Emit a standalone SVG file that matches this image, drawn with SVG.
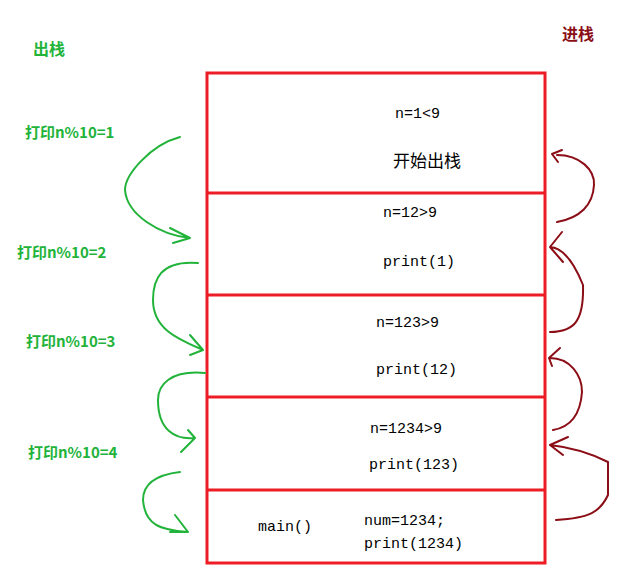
<svg xmlns="http://www.w3.org/2000/svg" width="637" height="588" viewBox="0 0 637 588">
<style>
.g{fill:none;stroke:#22b33a;stroke-width:2;stroke-linecap:round;stroke-linejoin:round}
.r{fill:none;stroke:#8b0d16;stroke-width:2;stroke-linecap:round;stroke-linejoin:round}
.lab{font-family:"Noto Sans CJK SC","Liberation Mono",monospace;font-size:15px;fill:#22b33a;font-weight:bold}
.t{font-family:"Liberation Mono","Noto Sans CJK SC",monospace;font-size:15px;fill:#000}
</style>
<rect width="637" height="588" fill="#fff"/>
<g id="stack" fill="none" stroke="#ee1c24" stroke-width="3">
<rect x="207" y="73" width="338" height="490"/>
<line x1="207" y1="193" x2="545" y2="193"/>
<line x1="207" y1="295" x2="545" y2="295"/>
<line x1="207" y1="397" x2="545" y2="397"/>
<line x1="207" y1="490" x2="545" y2="490"/>
</g>
<g id="frame1"><text class="t" x="395" y="118">n=1&lt;9</text><text class="t" x="393" y="167" style="font-family:'Noto Sans CJK SC',sans-serif;font-size:17px">开始出栈</text></g>
<g id="frame2"><text class="t" x="383" y="217">n=12&gt;9</text><text class="t" x="383" y="266">print(1)</text></g>
<g id="frame3"><text class="t" x="376" y="327">n=123&gt;9</text><text class="t" x="376" y="374">print(12)</text></g>
<g id="frame4"><text class="t" x="370" y="433">n=1234&gt;9</text><text class="t" x="369" y="469">print(123)</text></g>
<g id="frame5"><text class="t" x="258" y="531">main()</text><text class="t" x="364" y="525">num=1234;</text><text class="t" x="364" y="548">print(1234)</text></g>
<g id="labels">
<text class="lab" x="33" y="55" style="font-size:16px">出栈</text>
<text x="562" y="40" style="font-family:'Noto Sans CJK SC',sans-serif;font-size:16px;font-weight:bold;fill:#8b0d16">进栈</text>
<text class="lab" x="25" y="138">打印n%10=1</text>
<text class="lab" x="17" y="258">打印n%10=2</text>
<text class="lab" x="26" y="347">打印n%10=3</text>
<text class="lab" x="28" y="458">打印n%10=4</text>
</g>
<g id="connectors">
<path class="g" d="M180,137 C150,145 125,175 125,190 C127,215 160,235 190,238 M170,228 L190,238 L173,243"/>
<path class="g" d="M198,263 C160,260 153,280 153,300 C153,330 180,340 203,350 M190,335 L203,350 L190,355"/>
<path class="g" d="M205,373 C170,370 158,385 158,400 C158,430 175,440 195,438 M188,430 L195,438 L181,452"/>
<path class="g" d="M180,472 C155,475 143,485 143,500 C145,525 160,530 188,532 M175,515 L188,532 L170,532"/>
<path class="r" d="M557,155 C580,155 595,170 594,185 C593,205 580,218 557,222 M562,150 L552,154 L558,162"/>
<path class="r" d="M550,247 C565,248 575,265 583,285 C584,320 575,332 550,332 M562,232 L550,247 L563,262"/>
<path class="r" d="M550,358 C570,358 582,375 582,392 C580,420 565,428 553,430 M560,348 L549,358 L552,366"/>
<path class="r" d="M550,445 C578,448 600,458 608,462 L608,495 C600,512 590,518 556,520 M568,437 L550,445 L563,455"/>
</g>
</svg>
